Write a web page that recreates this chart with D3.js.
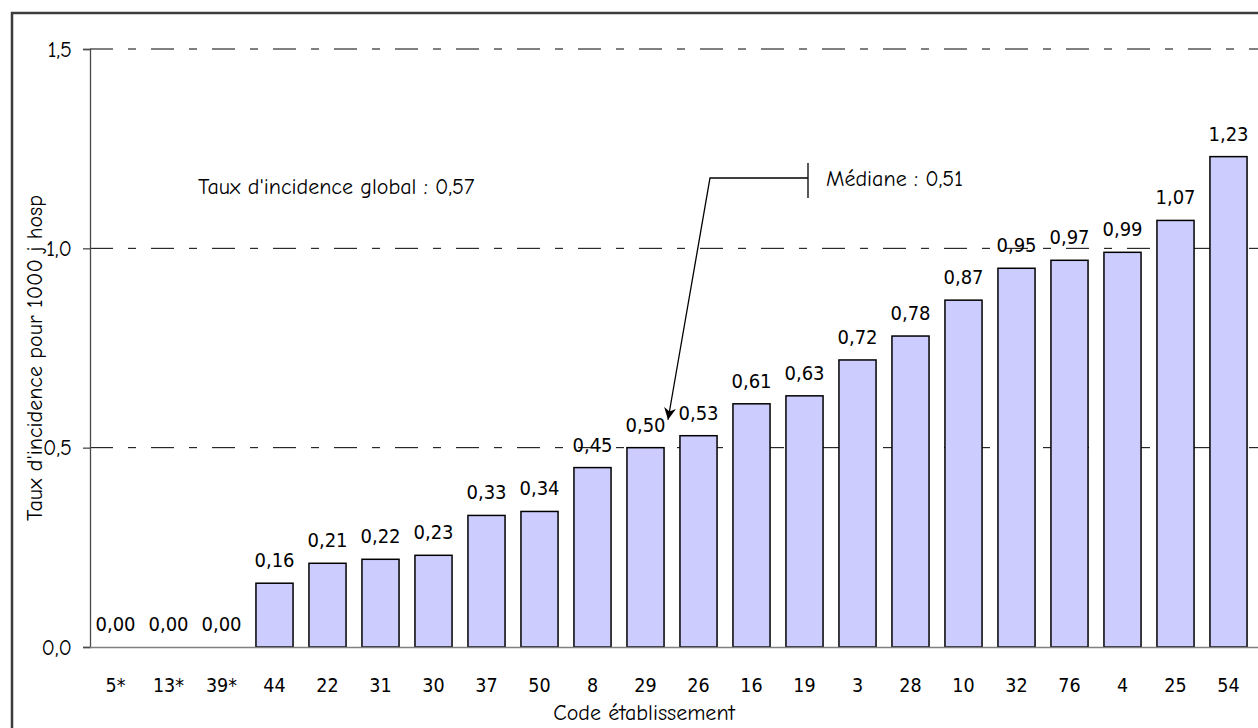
<!DOCTYPE html>
<html>
<head>
<meta charset="utf-8">
<script src="https://cdn.jsdelivr.net/npm/d3@7"></script>
<style>
  html, body { margin: 0; padding: 0; background: #fff; }
  svg { display: block; }
  .comic { font-family: "Comic Sans MS", "Comic Neue", "Noto Sans", sans-serif; }
  .verd { font-family: "DejaVu Sans Condensed", "DejaVu Sans", sans-serif; }
</style>
</head>
<body>
<svg id="chart" width="1258" height="728"></svg>
<script>
// Établissements, triés par taux croissant
const codes = ["5*", "13*", "39*", "44", "22", "31", "30", "37", "50", "8", "29",
               "26", "16", "19", "3", "28", "10", "32", "76", "4", "25", "54"];
const taux = [0.00, 0.00, 0.00, 0.16, 0.21, 0.22, 0.23, 0.33, 0.34, 0.45, 0.50,
              0.53, 0.61, 0.63, 0.72, 0.78, 0.87, 0.95, 0.97, 0.99, 1.07, 1.23];
const yTicks = [0, 0.5, 1.0, 1.5];
const tauxGlobal = 0.57;
const mediane = 0.51;

const fmt = (v, d) => v.toFixed(d).replace(".", ",");

const svg = d3.select("#chart");

// Cadre du graphique
svg.append("rect")
  .attr("x", 12).attr("y", 13).attr("width", 1300).attr("height", 800)
  .attr("fill", "none").attr("stroke", "#3c3c3c").attr("stroke-width", 2.5);

const x = d3.scaleBand().domain(codes).range([89, 1255])
  .paddingInner(0.3).paddingOuter(0.15);
const y = d3.scaleLinear().domain([0, 1.5]).range([647, 49]);

// Quadrillage horizontal en tirets-points
svg.append("g").selectAll("line")
  .data(yTicks.filter(t => t > 0))
  .join("line")
  .attr("x1", 90).attr("x2", 1258)
  .attr("y1", d => y(d)).attr("y2", d => y(d))
  .attr("stroke", "#000").attr("stroke-width", 1)
  .attr("stroke-dasharray", "23,15,8,15");

const rows = codes.map((c, i) => ({ c, v: taux[i] }));

// Barres
svg.append("g").selectAll("rect")
  .data(rows.filter(d => d.v > 0))
  .join("rect")
  .attr("x", d => x(d.c))
  .attr("y", d => y(d.v))
  .attr("width", x.bandwidth())
  .attr("height", d => y(0) - y(d.v))
  .attr("fill", "#CCCCFF")
  .attr("stroke", "#000")
  .attr("stroke-width", 1.5);

// Axe des ordonnées
const yAxis = svg.append("g").attr("transform", "translate(90,0)")
  .call(d3.axisLeft(y).tickValues(yTicks).tickSize(7).tickFormat(d => fmt(d, 1)));
yAxis.select(".domain").attr("stroke", "#4a4a4a").attr("stroke-width", 1.3);
yAxis.selectAll(".tick line").attr("stroke", "#4a4a4a").attr("stroke-width", 1.3);
yAxis.selectAll(".tick text")
  .attr("class", "comic").attr("x", -18)
  .style("font-size", "22px").attr("fill", "#000");

// Axe des abscisses
const xAxis = svg.append("g").attr("transform", `translate(0,${y(0)})`)
  .call(d3.axisBottom(x).tickSize(0).tickPadding(0));
xAxis.select(".domain").attr("d", `M90,0.5H1258`).attr("stroke", "#808080").attr("stroke-width", 1.5);
xAxis.selectAll(".tick text")
  .attr("class", "verd").attr("dy", 0).attr("y", 45)
  .style("font-size", "19.5px").attr("fill", "#000");

// Étiquettes de valeurs
svg.append("g").selectAll("text")
  .data(rows)
  .join("text")
  .attr("class", "verd")
  .attr("x", d => x(d.c) + x.bandwidth() / 2)
  .attr("y", d => y(d.v) - 16)
  .attr("text-anchor", "middle")
  .style("font-size", "20px")
  .text(d => fmt(d.v, 2));

// Titres des axes
svg.append("text").attr("class", "comic")
  .attr("x", 644).attr("y", 720).attr("text-anchor", "middle")
  .style("font-size", "22px")
  .text("Code établissement");

svg.append("clipPath").attr("id", "clipY")
  .append("rect").attr("x", 0).attr("y", 184).attr("width", 80).attr("height", 500);
svg.append("g").attr("clip-path", "url(#clipY)")
  .append("text").attr("class", "comic")
  .attr("transform", "translate(42,521) rotate(-90)")
  .attr("text-anchor", "start")
  .style("font-size", "22px")
  .text("Taux d'incidence pour 1000 j hosp");

// Annotations
svg.append("text").attr("class", "comic")
  .attr("x", 198).attr("y", 194)
  .style("font-size", "22px")
  .text("Taux d'incidence global : " + fmt(tauxGlobal, 2));

svg.append("defs").append("marker")
  .attr("id", "arrow").attr("viewBox", "0 0 10 10")
  .attr("refX", 10).attr("refY", 5)
  .attr("markerWidth", 12).attr("markerHeight", 12)
  .attr("markerUnits", "userSpaceOnUse")
  .attr("orient", "auto")
  .append("path").attr("d", "M0,0L10,5L0,10L3,5Z").attr("fill", "#000");

const tipX = (x("29") + x("26") + x.bandwidth()) / 2 - 4;
const tipY = y(tauxGlobal);
svg.append("path")
  .attr("d", `M808,178H710L${tipX},${tipY}`)
  .attr("fill", "none").attr("stroke", "#000").attr("stroke-width", 1.3)
  .attr("marker-end", "url(#arrow)");
svg.append("line")
  .attr("x1", 808).attr("x2", 808).attr("y1", 163).attr("y2", 198)
  .attr("stroke", "#000").attr("stroke-width", 1.3);

svg.append("text").attr("class", "comic")
  .attr("x", 826).attr("y", 186)
  .style("font-size", "22px")
  .text("Médiane : " + fmt(mediane, 2));
</script>
</body>
</html>
